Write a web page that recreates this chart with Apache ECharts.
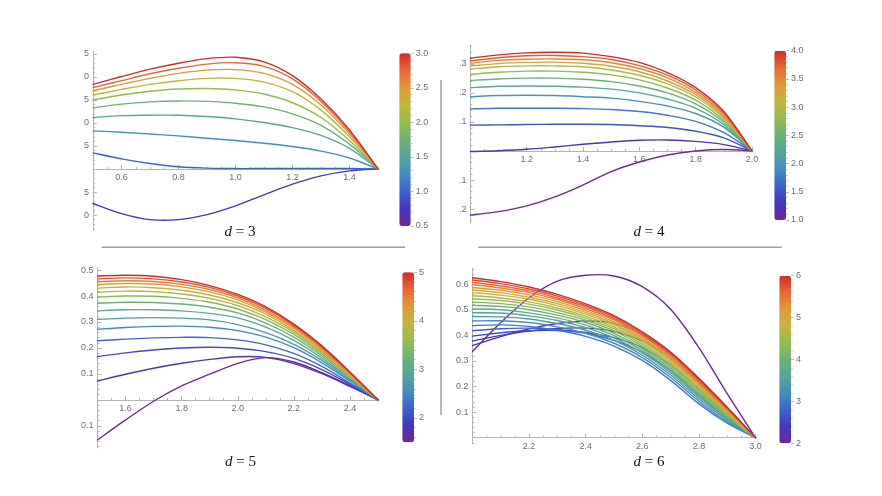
<!DOCTYPE html>
<html><head><meta charset="utf-8">
<script src="https://cdn.jsdelivr.net/npm/echarts@6/dist/echarts.min.js"></script>
<style>html,body{margin:0;padding:0;background:#fff}#c{width:882px;height:496px}</style>
</head><body><div id="c"></div>
<script>
// ---------------- DATA ----------------
// d = 3
const X_D3 = [0.5, 0.6, 0.7, 0.8, 0.9, 1.0, 1.1, 1.2, 1.3, 1.4, 1.5];
const DELTA_D3 = [0.75, 1.0, 1.25, 1.5, 1.75, 2.0, 2.25, 2.5, 2.75, 3.0];
const Y_D3 = [
  [-0.075, -0.097, -0.110, -0.110, -0.099, -0.080, -0.056, -0.033, -0.015, -0.004, 0],
  [0.035, 0.022, 0.012, 0.005, 0.002, 0.001, 0.001, 0.001, 0.001, 0.001, 0],
  [0.083, 0.080, 0.076, 0.072, 0.067, 0.062, 0.056, 0.049, 0.039, 0.024, 0],
  [0.112, 0.116, 0.117, 0.117, 0.114, 0.109, 0.101, 0.090, 0.073, 0.045, 0],
  [0.133, 0.141, 0.146, 0.148, 0.147, 0.143, 0.135, 0.120, 0.095, 0.054, 0],
  [0.150, 0.161, 0.169, 0.174, 0.175, 0.172, 0.163, 0.144, 0.112, 0.062, 0],
  [0.161, 0.173, 0.184, 0.192, 0.197, 0.197, 0.189, 0.168, 0.128, 0.070, 0],
  [0.170, 0.184, 0.197, 0.208, 0.215, 0.216, 0.208, 0.184, 0.139, 0.076, 0],
  [0.177, 0.192, 0.207, 0.219, 0.228, 0.231, 0.223, 0.196, 0.147, 0.081, 0],
  [0.184, 0.201, 0.217, 0.230, 0.240, 0.243, 0.233, 0.203, 0.152, 0.085, 0]
];
// d = 4
const X_D4 = [1.0, 1.1, 1.2, 1.3, 1.4, 1.5, 1.6, 1.7, 1.8, 1.9, 2.0];
const DELTA_D4 = [1.0, 1.25, 1.5, 1.75, 2.0, 2.25, 2.5, 2.75, 3.0, 3.25, 3.5, 3.75, 4.0];
const Y_D4 = [
  [-0.221, -0.209, -0.189, -0.158, -0.117, -0.071, -0.038, -0.014, 0.000, 0.005, 0],
  [-0.002, 0.001, 0.006, 0.014, 0.023, 0.031, 0.037, 0.038, 0.033, 0.022, 0],
  [0.089, 0.090, 0.091, 0.092, 0.092, 0.091, 0.087, 0.081, 0.068, 0.045, 0],
  [0.145, 0.147, 0.147, 0.147, 0.146, 0.143, 0.136, 0.123, 0.102, 0.063, 0],
  [0.187, 0.191, 0.192, 0.191, 0.187, 0.182, 0.171, 0.155, 0.129, 0.082, 0],
  [0.218, 0.223, 0.224, 0.223, 0.220, 0.213, 0.200, 0.179, 0.147, 0.091, 0],
  [0.243, 0.248, 0.251, 0.251, 0.247, 0.239, 0.224, 0.200, 0.162, 0.099, 0],
  [0.264, 0.271, 0.275, 0.275, 0.271, 0.262, 0.245, 0.217, 0.175, 0.106, 0],
  [0.282, 0.290, 0.293, 0.293, 0.290, 0.279, 0.261, 0.231, 0.186, 0.113, 0],
  [0.293, 0.301, 0.305, 0.306, 0.302, 0.292, 0.273, 0.241, 0.194, 0.118, 0],
  [0.302, 0.312, 0.316, 0.317, 0.314, 0.304, 0.284, 0.252, 0.202, 0.124, 0],
  [0.310, 0.321, 0.328, 0.329, 0.325, 0.315, 0.294, 0.261, 0.210, 0.130, 0],
  [0.320, 0.331, 0.338, 0.340, 0.337, 0.325, 0.305, 0.270, 0.218, 0.136, 0]
];
// d = 5
const X_D5 = [1.5, 1.6, 1.7, 1.8, 1.9, 2.0, 2.1, 2.2, 2.3, 2.4, 2.5];
const DELTA_D5 = [1.5, 1.75, 2.0, 2.25, 2.5, 2.75, 3.0, 3.25, 3.5, 3.75, 4.0, 4.25, 4.5, 4.75, 5.0];
const Y_D5 = [
  [-0.154, -0.077, -0.005, 0.054, 0.099, 0.141, 0.163, 0.146, 0.105, 0.055, 0],
  [0.073, 0.099, 0.122, 0.141, 0.156, 0.166, 0.164, 0.140, 0.101, 0.052, 0],
  [0.167, 0.181, 0.192, 0.200, 0.203, 0.199, 0.186, 0.160, 0.117, 0.060, 0],
  [0.228, 0.234, 0.239, 0.241, 0.240, 0.231, 0.212, 0.179, 0.129, 0.065, 0],
  [0.272, 0.279, 0.283, 0.284, 0.280, 0.267, 0.242, 0.201, 0.143, 0.073, 0],
  [0.310, 0.315, 0.317, 0.315, 0.308, 0.290, 0.259, 0.214, 0.152, 0.077, 0],
  [0.343, 0.347, 0.347, 0.343, 0.333, 0.316, 0.280, 0.229, 0.161, 0.082, 0],
  [0.372, 0.376, 0.375, 0.369, 0.357, 0.335, 0.296, 0.242, 0.170, 0.086, 0],
  [0.396, 0.400, 0.399, 0.391, 0.376, 0.350, 0.309, 0.252, 0.177, 0.090, 0],
  [0.414, 0.419, 0.417, 0.408, 0.391, 0.363, 0.320, 0.261, 0.183, 0.093, 0],
  [0.430, 0.435, 0.432, 0.422, 0.404, 0.374, 0.330, 0.268, 0.189, 0.096, 0],
  [0.444, 0.448, 0.446, 0.435, 0.416, 0.385, 0.338, 0.275, 0.194, 0.099, 0],
  [0.455, 0.459, 0.456, 0.445, 0.425, 0.393, 0.345, 0.281, 0.199, 0.102, 0],
  [0.466, 0.470, 0.466, 0.454, 0.433, 0.400, 0.352, 0.287, 0.204, 0.105, 0],
  [0.477, 0.480, 0.476, 0.463, 0.440, 0.406, 0.358, 0.292, 0.208, 0.108, 0]
];
// d = 6
const X_D6 = [2.0, 2.1, 2.2, 2.3, 2.4, 2.5, 2.6, 2.7, 2.8, 2.9, 3.0];
const DELTA_D6 = [2.0, 2.2, 2.4, 2.6, 2.8, 3.0, 3.2, 3.4, 3.6, 3.8, 4.0, 4.2, 4.4, 4.6, 4.8, 5.0, 5.2, 5.4, 5.6, 5.8, 6.0];
const Y_D6 = [
  [0.337, 0.450, 0.547, 0.612, 0.635, 0.632, 0.590, 0.502, 0.352, 0.172, 0],
  [0.360, 0.395, 0.425, 0.446, 0.456, 0.447, 0.405, 0.330, 0.228, 0.114, 0],
  [0.378, 0.400, 0.417, 0.427, 0.428, 0.415, 0.378, 0.310, 0.214, 0.106, 0],
  [0.397, 0.410, 0.418, 0.419, 0.411, 0.391, 0.352, 0.285, 0.190, 0.091, 0],
  [0.418, 0.426, 0.428, 0.423, 0.408, 0.380, 0.333, 0.262, 0.166, 0.075, 0],
  [0.438, 0.441, 0.435, 0.420, 0.396, 0.358, 0.302, 0.224, 0.132, 0.057, 0],
  [0.456, 0.457, 0.450, 0.433, 0.408, 0.369, 0.313, 0.235, 0.142, 0.063, 0],
  [0.473, 0.472, 0.464, 0.446, 0.420, 0.380, 0.323, 0.245, 0.151, 0.069, 0],
  [0.488, 0.487, 0.476, 0.458, 0.430, 0.390, 0.332, 0.254, 0.159, 0.074, 0],
  [0.503, 0.500, 0.488, 0.468, 0.440, 0.399, 0.341, 0.262, 0.167, 0.079, 0],
  [0.517, 0.513, 0.500, 0.479, 0.450, 0.408, 0.349, 0.271, 0.174, 0.083, 0],
  [0.530, 0.524, 0.511, 0.489, 0.459, 0.417, 0.357, 0.279, 0.181, 0.088, 0],
  [0.543, 0.536, 0.522, 0.499, 0.467, 0.425, 0.365, 0.286, 0.188, 0.092, 0],
  [0.555, 0.546, 0.531, 0.507, 0.475, 0.432, 0.372, 0.293, 0.194, 0.096, 0],
  [0.567, 0.557, 0.541, 0.516, 0.483, 0.440, 0.379, 0.300, 0.201, 0.100, 0],
  [0.577, 0.567, 0.549, 0.524, 0.490, 0.446, 0.385, 0.307, 0.206, 0.103, 0],
  [0.587, 0.576, 0.558, 0.532, 0.497, 0.453, 0.391, 0.313, 0.212, 0.107, 0],
  [0.598, 0.585, 0.567, 0.540, 0.504, 0.460, 0.398, 0.319, 0.217, 0.110, 0],
  [0.607, 0.593, 0.574, 0.546, 0.511, 0.465, 0.403, 0.324, 0.222, 0.113, 0],
  [0.616, 0.602, 0.581, 0.553, 0.517, 0.471, 0.409, 0.330, 0.227, 0.116, 0],
  [0.625, 0.610, 0.589, 0.560, 0.523, 0.477, 0.414, 0.335, 0.232, 0.119, 0]
];

// ---------------- TICKS / LABELS ----------------
const XT_D3 = [0.6, 0.8, 1.0, 1.2, 1.4];           const XL_D3 = ['0.6', '0.8', '1.0', '1.2', '1.4'];
const YT_D3 = [-0.10, -0.05, 0.05, 0.10, 0.15, 0.20, 0.25]; const YL_D3 = ['0', '5', '5', '0', '5', '0', '5'];
const CT_D3 = [0.5, 1.0, 1.5, 2.0, 2.5, 3.0];      const CL_D3 = ['0.5', '1.0', '1.5', '2.0', '2.5', '3.0'];

const XT_D4 = [1.2, 1.4, 1.6, 1.8, 2.0];           const XL_D4 = ['1.2', '1.4', '1.6', '1.8', '2.0'];
const YT_D4 = [-0.2, -0.1, 0.1, 0.2, 0.3];          const YL_D4 = ['.2', '.1', '.1', '.2', '.3'];
const CT_D4 = [1.0, 1.5, 2.0, 2.5, 3.0, 3.5, 4.0]; const CL_D4 = ['1.0', '1.5', '2.0', '2.5', '3.0', '3.5', '4.0'];

const XT_D5 = [1.6, 1.8, 2.0, 2.2, 2.4];           const XL_D5 = ['1.6', '1.8', '2.0', '2.2', '2.4'];
const YT_D5 = [-0.1, 0.1, 0.2, 0.3, 0.4, 0.5];      const YL_D5 = ['0.1', '0.1', '0.2', '0.3', '0.4', '0.5'];
const CT_D5 = [2, 3, 4, 5];                         const CL_D5 = ['2', '3', '4', '5'];

const XT_D6 = [2.2, 2.4, 2.6, 2.8, 3.0];           const XL_D6 = ['2.2', '2.4', '2.6', '2.8', '3.0'];
const YT_D6 = [0.1, 0.2, 0.3, 0.4, 0.5, 0.6];       const YL_D6 = ['0.1', '0.2', '0.3', '0.4', '0.5', '0.6'];
const CT_D6 = [2, 3, 4, 5, 6];                      const CL_D6 = ['2', '3', '4', '5', '6'];

const RAINBOW = ['#6d2a8f', '#4436bd', '#3c62cc', '#458cc0', '#55a59a', '#6cb274',
                 '#97bb50', '#c4b53e', '#de9a38', '#e36a35', '#d6282a'];

// ---------------- LAYOUT ----------------
const PANELS = [
  { X: X_D3, D: DELTA_D3, Y: Y_D3, xr: [0.5, 1.5], yr: [-0.133, 0.255],
    grid: { left: 93, top: 51.7, width: 285, height: 178.5 },
    xT: XT_D3, xL: XL_D3, yT: YT_D3, yL: YL_D3, xm: 0.05, ym: 0.01,
    cr: [0.5, 3.0], cb: { left: 399.3, top: 53.3, width: 11.4, height: 172.7 }, cT: CT_D3, cL: CL_D3, cm: 0.1,
    title: '3', tx: 240, ty: 232 },
  { X: X_D4, D: DELTA_D4, Y: Y_D4, xr: [1.0, 2.0], yr: [-0.249, 0.365],
    grid: { left: 470.4, top: 45, width: 281.6, height: 178.3 },
    xT: XT_D4, xL: XL_D4, yT: YT_D4, yL: YL_D4, xm: 0.05, ym: 0.02,
    cr: [1.0, 4.0], cb: { left: 774.3, top: 50.7, width: 11.7, height: 169.3 }, cT: CT_D4, cL: CL_D4, cm: 0.1,
    title: '4', tx: 649, ty: 232 },
  { X: X_D5, D: DELTA_D5, Y: Y_D5, xr: [1.5, 2.5], yr: [-0.185, 0.509],
    grid: { left: 97.5, top: 267.7, width: 280.5, height: 180.3 },
    xT: XT_D5, xL: XL_D5, yT: YT_D5, yL: YL_D5, xm: 0.05, ym: 0.02,
    cr: [1.5, 5.0], cb: { left: 402.3, top: 272.3, width: 11.7, height: 170 }, cT: CT_D5, cL: CL_D5, cm: 0.2,
    title: '5', tx: 240.5, ty: 462 },
  { X: X_D6, D: DELTA_D6, Y: Y_D6, xr: [2.0, 3.0], yr: [-0.022, 0.662],
    grid: { left: 472.5, top: 268.3, width: 283, height: 175 },
    xT: XT_D6, xL: XL_D6, yT: YT_D6, yL: YL_D6, xm: 0.05, ym: 0.02,
    cr: [2.0, 6.0], cb: { left: 779.3, top: 275.7, width: 11.7, height: 167.6 }, cT: CT_D6, cL: CL_D6, cm: 0.2,
    title: '6', tx: 649, ty: 462 }
];

const AXIS = '#b4b4b4', LBL = '#6e6e6e', FONT = 'Liberation Sans', SEP = '#9c9c9c';

function steps(a, b, s) {
  const out = [];
  for (let k = Math.ceil(a / s - 1e-9); k * s <= b + 1e-9; k++) out.push(+(k * s).toFixed(6));
  return out;
}
function minors(range, s, majors) {
  return steps(range[0], range[1], s).filter(v => !majors.some(m => Math.abs(m - v) < 1e-9) && Math.abs(v) > 1e-9);
}
function fmt(ticks, labels) {
  return function (v) {
    const i = ticks.findIndex(t => Math.abs(t - v) < 1e-6);
    return i >= 0 ? labels[i] : '';
  };
}
// smooth curve through the series' own points, positioned by the axes (api.coord)
function curveRenderer(color) {
  return function (params, api) {
    if (params.dataIndexInside !== 0) return null;
    const n = params.dataInsideLength;
    const P = [];
    for (let i = 0; i < n; i++) P.push(api.coord([api.value(0, i), api.value(1, i)]));
    let d = 'M' + P[0][0].toFixed(2) + ' ' + P[0][1].toFixed(2);
    for (let i = 0; i < n - 1; i++) {
      const p0 = P[Math.max(i - 1, 0)], p1 = P[i], p2 = P[i + 1], p3 = P[Math.min(i + 2, n - 1)];
      const c1x = p1[0] + (p2[0] - p0[0]) / 6, c1y = p1[1] + (p2[1] - p0[1]) / 6;
      const c2x = p2[0] - (p3[0] - p1[0]) / 6, c2y = p2[1] - (p3[1] - p1[1]) / 6;
      d += ' C' + c1x.toFixed(2) + ' ' + c1y.toFixed(2) + ' ' + c2x.toFixed(2) + ' ' + c2y.toFixed(2) +
           ' ' + p2[0].toFixed(2) + ' ' + p2[1].toFixed(2);
    }
    return { type: 'path', silent: true, shape: { pathData: d },
             style: { fill: 'none', stroke: color, lineWidth: 1.4, lineJoin: 'round', lineCap: 'round' } };
  };
}

const grid = [], xAxis = [], yAxis = [], series = [], visualMap = [], graphic = [];

PANELS.forEach(p => {
  const g = grid.length;
  grid.push(Object.assign({ containLabel: false }, p.grid));
  const xi = xAxis.length, yi = yAxis.length;
  const zeroOffset = p.grid.height * (-p.yr[0]) / (p.yr[1] - p.yr[0]);
  xAxis.push({
    type: 'value', gridIndex: g, min: p.xr[0], max: p.xr[1], position: 'bottom',
    axisLine: { show: true, onZero: true, lineStyle: { color: AXIS, width: 1 } },
    axisTick: { show: true, inside: true, length: 4, customValues: p.xT, lineStyle: { color: AXIS } },
    axisLabel: { show: true, customValues: p.xT, formatter: fmt(p.xT, p.xL), margin: 4 - zeroOffset,
                 fontSize: 9, color: LBL, fontFamily: FONT },
    splitLine: { show: false }
  });
  xAxis.push({
    type: 'value', gridIndex: g, min: p.xr[0], max: p.xr[1], position: 'bottom',
    axisLine: { show: false, onZero: true },
    axisTick: { show: true, inside: true, length: 2, customValues: minors(p.xr, p.xm, p.xT), lineStyle: { color: AXIS } },
    axisLabel: { show: false }, splitLine: { show: false }
  });
  yAxis.push({
    type: 'value', gridIndex: g, min: p.yr[0], max: p.yr[1], position: 'left',
    axisLine: { show: true, onZero: false, lineStyle: { color: AXIS, width: 1 } },
    axisTick: { show: true, inside: true, length: 4, customValues: p.yT, lineStyle: { color: AXIS } },
    axisLabel: { show: true, customValues: p.yT, formatter: fmt(p.yT, p.yL), margin: 4,
                 fontSize: 9, color: LBL, fontFamily: FONT },
    splitLine: { show: false }
  });
  yAxis.push({
    type: 'value', gridIndex: g, min: p.yr[0], max: p.yr[1], position: 'left',
    axisLine: { show: false, onZero: false },
    axisTick: { show: true, inside: true, length: 2, customValues: minors(p.yr, p.ym, p.yT), lineStyle: { color: AXIS } },
    axisLabel: { show: false }, splitLine: { show: false }
  });
  p.D.forEach((d, k) => {
    const t = (d - p.cr[0]) / (p.cr[1] - p.cr[0]);
    series.push({
      type: 'custom', name: 'Δ=' + d, xAxisIndex: xi, yAxisIndex: yi, silent: true,
      coordinateSystem: 'cartesian2d', encode: { x: 0, y: 1 },
      renderItem: curveRenderer(echarts.color.lerp(t, RAINBOW)),
      data: p.X.map((x, i) => [x, p.Y[k][i]])
    });
  });
});

PANELS.forEach(p => {
  const g = grid.length;
  grid.push(Object.assign({ containLabel: false }, p.cb));
  const xi = xAxis.length, yi = yAxis.length;
  xAxis.push({ type: 'value', gridIndex: g, min: 0, max: 1, show: false });
  yAxis.push({
    type: 'value', gridIndex: g, min: p.cr[0], max: p.cr[1], position: 'right',
    axisLine: { show: false, onZero: false },
    axisTick: { show: true, inside: false, length: 3, customValues: p.cT, lineStyle: { color: '#bdbdbd' } },
    axisLabel: { show: true, customValues: p.cT, formatter: fmt(p.cT, p.cL), margin: 5,
                 fontSize: 9, color: LBL, fontFamily: FONT },
    splitLine: { show: false }
  });
  yAxis.push({
    type: 'value', gridIndex: g, min: p.cr[0], max: p.cr[1], position: 'right',
    axisLine: { show: false, onZero: false },
    axisTick: { show: true, inside: false, length: 2, customValues: minors(p.cr, p.cm, p.cT), lineStyle: { color: '#d0d0d0' } },
    axisLabel: { show: false }, splitLine: { show: false }
  });
  const si = series.length;
  series.push({ type: 'scatter', xAxisIndex: xi, yAxisIndex: yi, data: [], silent: true });
  visualMap.push({
    type: 'continuous', seriesIndex: si, min: p.cr[0], max: p.cr[1], calculable: false,
    orient: 'vertical', left: p.cb.left, top: p.cb.top, itemWidth: p.cb.width, itemHeight: p.cb.height,
    padding: 0, hoverLink: false, inRange: { color: RAINBOW }
  });
  graphic.push({
    type: 'text', x: p.tx, y: p.ty, silent: true,
    style: {
      text: '{i|d} = ' + p.title, fontFamily: 'Liberation Serif', fontSize: 15, fill: '#111',
      align: 'center', verticalAlign: 'middle',
      rich: { i: { fontStyle: 'italic', fontFamily: 'Liberation Serif', fontSize: 15, fill: '#111' } }
    }
  });
});

graphic.push(
  { type: 'line', silent: true, shape: { x1: 101.7, y1: 247.3, x2: 405, y2: 247.3 }, style: { stroke: SEP, lineWidth: 1.6 } },
  { type: 'line', silent: true, shape: { x1: 478.3, y1: 247.3, x2: 781.7, y2: 247.3 }, style: { stroke: SEP, lineWidth: 1.6 } },
  { type: 'line', silent: true, shape: { x1: 441, y1: 80, x2: 441, y2: 415 }, style: { stroke: SEP, lineWidth: 1.4 } }
);

const chart = echarts.init(document.getElementById('c'), null, { renderer: 'canvas' });
chart.setOption({
  backgroundColor: '#ffffff',
  animation: false,
  textStyle: { fontFamily: FONT },
  grid, xAxis, yAxis, series, visualMap, graphic
});
</script>
</body></html>
